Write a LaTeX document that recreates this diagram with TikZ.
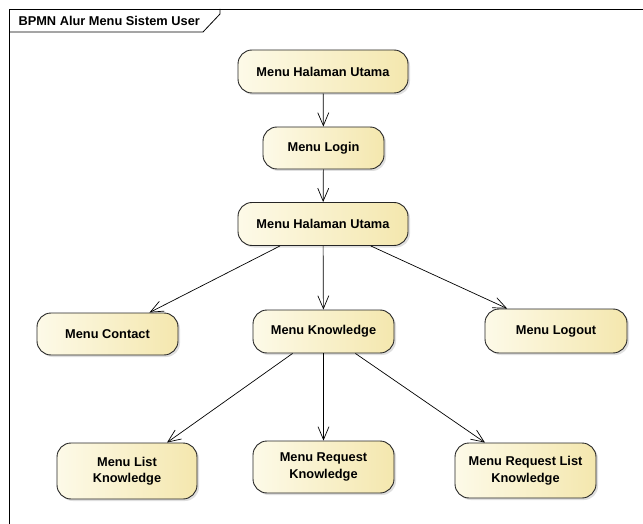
\documentclass[tikz,border=0pt]{standalone}
\usepackage{fontspec}
\setmainfont{Liberation Sans}
\usepackage{tikz}
\usetikzlibrary{shapes,arrows.meta,shadows}

\definecolor{gelbhell}{RGB}{253,250,232}
\definecolor{gelb}{RGB}{244,231,174}

\begin{document}
\begin{tikzpicture}[x=1pt,y=-1pt,
		menu/.style={rectangle,rounded corners=14pt,draw=black!85,line width=0.9pt,
			left color=gelbhell,right color=gelb,align=center,inner sep=0pt,
			font=\fontsize{12.8}{16.5}\selectfont\bfseries,
			drop shadow={shadow xshift=2pt,shadow yshift=-2pt,fill=black!25}},
		pfeil/.style={-{Straight Barb[length=13pt,width=11pt]},line width=0.7pt}]
		\useasboundingbox (0,0) rectangle (643,524);
		\draw[line width=0.8pt] (9,524) -- (9,9) -- (643,9);
		\draw[line width=0.8pt] (9,32) -- (203,32) -- (220,14) -- (220,9);
		\node[anchor=west,font=\fontsize{12.8}{15}\selectfont\bfseries] (titel) at (15,21) {BPMN Alur Menu Sistem User};
		
		\node[menu,minimum width=170pt,minimum height=43pt] (utama1) at (323,71.5) {Menu Halaman Utama};
		\node[menu,minimum width=121pt,minimum height=42pt] (login) at (323.5,148) {Menu Login};
		\node[menu,minimum width=170pt,minimum height=43pt] (utama2) at (323,224) {Menu Halaman Utama};
		
		\node[menu,minimum width=141pt,minimum height=42pt] (contact) at (107.5,334) {Menu Contact};
		\node[menu,minimum width=141pt,minimum height=43pt] (knowledge) at (323.5,331.5) {Menu Knowledge};
		\node[menu,minimum width=142pt,minimum height=44pt] (logout) at (556,331) {Menu Logout};
		
		\node[menu,minimum width=140pt,minimum height=56pt] (list) at (127,471) {Menu List\\Knowledge};
		\node[menu,minimum width=141pt,minimum height=52pt] (request) at (323.5,467) {Menu Request\\Knowledge};
		\node[menu,minimum width=141pt,minimum height=55pt] (requestlist) at (525.5,470.5) {Menu Request List\\Knowledge};
		
		\draw[pfeil] (utama1) -- (login);
		\draw[pfeil] (login) -- (utama2);
		\draw[pfeil] (utama2) -- (contact);
		\draw[pfeil] (utama2) -- (knowledge);
		\draw[pfeil] (utama2) -- (logout);
		\draw[pfeil] (knowledge) -- (list);
		\draw[pfeil] (knowledge) -- (request);
		\draw[pfeil] (knowledge) -- (requestlist);
	\end{tikzpicture}
\end{document}
